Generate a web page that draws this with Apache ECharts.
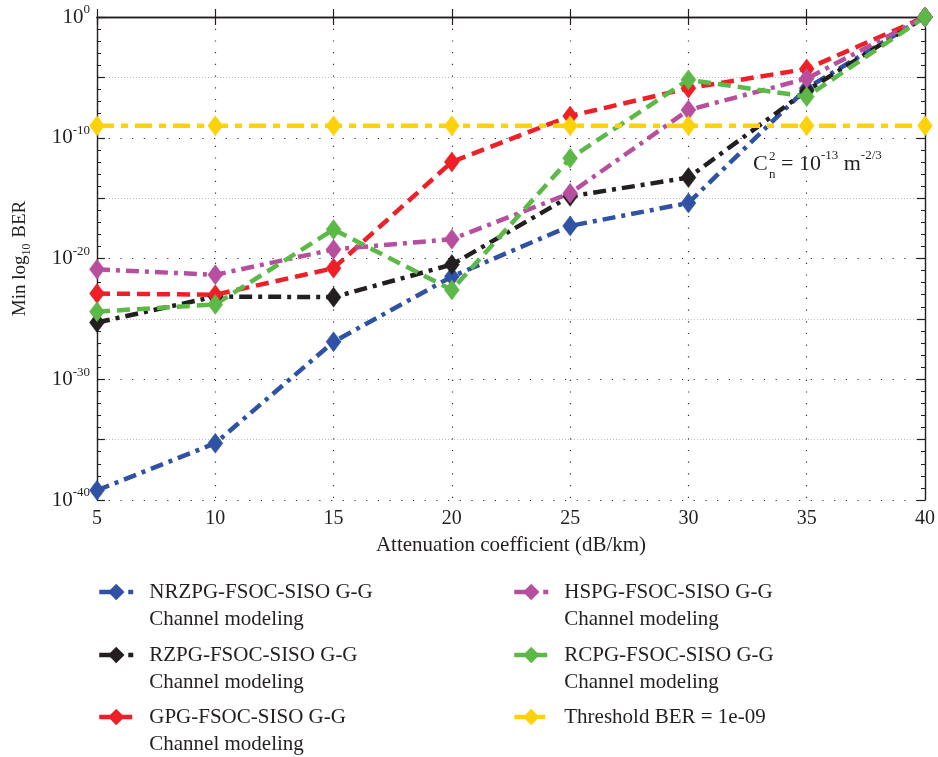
<!DOCTYPE html>
<html>
<head>
<meta charset="utf-8">
<script src="https://cdn.jsdelivr.net/npm/echarts@6/dist/echarts.min.js"></script>
<style>
  html, body { margin: 0; padding: 0; background: #fff; }
  #chart { width: 938px; height: 757px; }
</style>
</head>
<body>
<div id="chart"></div>
<script>
// Attenuation coefficient (dB/km)
const attenuation = [5, 10, 15, 20, 25, 30, 35, 40];

// Minimum BER per scheme, stored as log10(BER)
const nrzpgLog = [-39.2, -35.3, -26.9, -21.5, -17.3, -15.4, -5.9, 0];
const rzpgLog  = [-25.3, -23.15, -23.2, -20.5, -14.85, -13.3, -6.1, 0];
const gpgLog   = [-22.9, -23.0, -20.8, -12.0, -8.2, -5.9, -4.3, 0];
const hspgLog  = [-20.9, -21.35, -19.25, -18.4, -14.6, -7.7, -5.1, 0];
const rcpgLog  = [-24.4, -23.8, -17.6, -22.6, -11.7, -5.2, -6.6, 0];
const thresholdLog = [-9, -9, -9, -9, -9, -9, -9, -9];

const seriesNames = [
  'NRZPG-FSOC-SISO G-G\nChannel modeling',
  'RZPG-FSOC-SISO G-G\nChannel modeling',
  'GPG-FSOC-SISO G-G\nChannel modeling',
  'HSPG-FSOC-SISO G-G\nChannel modeling',
  'RCPG-FSOC-SISO G-G\nChannel modeling',
  'Threshold BER = 1e-09'
];
const xTicks = [5, 40, 5];       // min, max, step
const yTicks = [-40, 0, 5];      // decades: min, max, step

const FONT = '"Liberation Serif", "Times New Roman", serif';
const INK = '#231f20';

const dashDot = [13, 6, 4, 6];
const dashed = [13, 7];

function pairs(ys) {
  return attenuation.map((x, i) => [x, ys[i]]);
}

function lineSeries(name, ys, color, dash) {
  return {
    name: name,
    type: 'line',
    data: pairs(ys),
    symbol: 'diamond',
    symbolSize: [15, 20],
    showAllSymbol: true,
    lineStyle: { color: color, width: 4.5, type: dash },
    itemStyle: { color: color, borderColor: color, borderWidth: 0.5 },
    emphasis: { disabled: true },
    animation: false
  };
}

// One legend block per entry, two columns of three.
// Two-line entries get a blank leading line so the icon sits beside the first line.
function legendEntry(name, left, firstLineY) {
  const twoLine = name.indexOf('\n') >= 0;
  const LH = 27;
  return {
    orient: 'vertical',
    left: left,
    top: twoLine ? firstLineY - LH * 1.5 : firstLineY - LH / 2,
    padding: 0,
    itemWidth: 34,
    itemHeight: 17,
    selectedMode: false,
    lineStyle: { width: 4.5 },
    formatter: function (n) { return twoLine ? '\n' + n : n; },
    textStyle: {
      fontFamily: FONT,
      fontSize: 21,
      color: INK,
      lineHeight: LH,
      padding: [0, 0, 0, 11]
    },
    data: [name]
  };
}

const chart = echarts.init(document.getElementById('chart'), null, { renderer: 'canvas' });

const option = {
  backgroundColor: '#ffffff',
  animation: false,
  grid: { left: 97, right: 12, top: 17, bottom: 257, containLabel: false },
  xAxis: [
    {
      type: 'value',
      position: 'bottom',
      min: xTicks[0], max: xTicks[1], interval: xTicks[2],
      name: 'Attenuation coefficient (dB/km)',
      nameLocation: 'middle',
      nameGap: 35,
      nameTextStyle: { fontFamily: FONT, fontSize: 21, color: INK },
      axisLine: { lineStyle: { color: INK, width: 1.4 } },
      axisTick: { inside: true, length: 8, lineStyle: { color: INK, width: 1.2 } },
      axisLabel: { fontFamily: FONT, fontSize: 20, color: INK, margin: 9 },
      splitLine: { show: true, lineStyle: { color: '#333', width: 1.2, type: [1.2, 10.5] } }
    },
    {
      type: 'value',
      position: 'top',
      min: xTicks[0], max: xTicks[1], interval: xTicks[2],
      axisLine: { lineStyle: { color: INK, width: 1.4 } },
      axisTick: { inside: true, length: 8, lineStyle: { color: INK, width: 1.2 } },
      axisLabel: { show: false },
      splitLine: { show: false }
    }
  ],
  yAxis: [
    {
      type: 'value',
      position: 'left',
      min: yTicks[0], max: yTicks[1], interval: yTicks[2],
      name: '{a|Min log}{s|10}{a| BER}',
      nameLocation: 'middle',
      nameGap: 64,
      nameRotate: 90,
      nameTextStyle: {
        rich: {
          a: { fontFamily: FONT, fontSize: 19, color: INK, lineHeight: 26 },
          s: { fontFamily: FONT, fontSize: 12, color: INK, lineHeight: 26, verticalAlign: 'bottom', padding: [0, 1, 0, 0] }
        }
      },
      axisLine: { lineStyle: { color: INK, width: 1.4 } },
      axisTick: { inside: true, length: 8, lineStyle: { color: INK, width: 1.2 } },
      minorTick: { show: true, splitNumber: 5, length: 4, lineStyle: { color: INK, width: 1 } },
      axisLabel: {
        margin: 7,
        formatter: function (v) {
          if (v % 10 !== 0) return '';
          return '{b|10}{e|' + (v === 0 ? '0' : String(v)) + '}';
        },
        rich: {
          b: { fontFamily: FONT, fontSize: 21, color: INK, lineHeight: 27 },
          e: { fontFamily: FONT, fontSize: 13, color: INK, lineHeight: 27, verticalAlign: 'top' }
        }
      },
      splitLine: { show: true, lineStyle: { color: ['#333', 'rgba(0,0,0,0)'], width: 1.2, type: [1.2, 10.5] } }
    },
    {
      type: 'value',
      position: 'right',
      min: yTicks[0], max: yTicks[1], interval: yTicks[2],
      axisLine: { show: true, lineStyle: { color: INK, width: 1.4 } },
      axisTick: { show: true, inside: true, length: 8, lineStyle: { color: INK, width: 1.2 } },
      minorTick: { show: true, splitNumber: 5, length: 4, lineStyle: { color: INK, width: 1 } },
      axisLabel: { show: false },
      splitLine: { show: true, lineStyle: { color: ['rgba(0,0,0,0)', '#bdbdbd'], width: 1, type: [1, 2] } }
    }
  ],
  legend: [
    legendEntry(seriesNames[0], 97, 592),
    legendEntry(seriesNames[1], 97, 655),
    legendEntry(seriesNames[2], 97, 717),
    legendEntry(seriesNames[3], 512, 592),
    legendEntry(seriesNames[4], 512, 655),
    legendEntry(seriesNames[5], 512, 717)
  ],
  graphic: [
    {
      type: 'group',
      left: 753,
      top: 149,
      children: [
        { type: 'text', x: 0, y: 4, style: { text: 'C', font: '22px ' + FONT, fill: INK } },
        { type: 'text', x: 16, y: 1, style: { text: '2', font: '13px ' + FONT, fill: INK } },
        { type: 'text', x: 16, y: 19, style: { text: 'n', font: '13px ' + FONT, fill: INK } },
        {
          type: 'text', x: 28, y: 0,
          style: {
            text: '{a|= 10}{e|-13}{a| m}{e|-2/3}',
            rich: {
              a: { fontFamily: FONT, fontSize: 22, fill: INK, color: INK, lineHeight: 30 },
              e: { fontFamily: FONT, fontSize: 13, fill: INK, color: INK, lineHeight: 30, verticalAlign: 'top' }
            }
          }
        }
      ]
    }
  ],
  series: [
    lineSeries(seriesNames[0], nrzpgLog, '#2f52a5', dashDot),
    lineSeries(seriesNames[1], rzpgLog, '#231f20', dashDot),
    lineSeries(seriesNames[2], gpgLog, '#ee1f26', dashed),
    lineSeries(seriesNames[3], hspgLog, '#b84f9e', dashDot),
    lineSeries(seriesNames[4], rcpgLog, '#5cb947', dashed),
    lineSeries(seriesNames[5], thresholdLog, '#fdd20a', [17, 7, 7, 7])
  ]
};

chart.setOption(option);
</script>
</body>
</html>
